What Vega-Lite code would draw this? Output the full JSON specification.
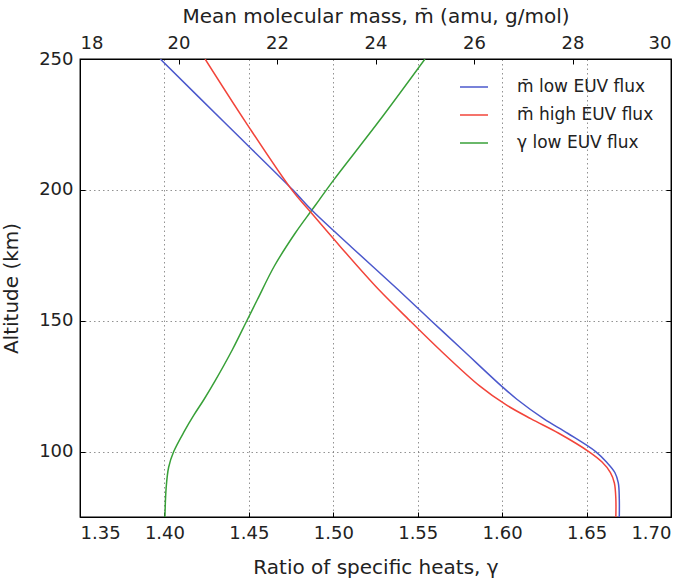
{
  "$schema": "https://vega.github.io/schema/vega-lite/v6.json",
  "width": 591,
  "height": 458,
  "autosize": "none",
  "padding": {"left": 80, "top": 59, "right": 19, "bottom": 63},
  "background": "white",
  "config": {
    "font": "DejaVu Sans",
    "view": {"stroke": "black", "strokeWidth": 1.3},
    "axis": {
      "labelFont": "DejaVu Sans", "labelFontSize": 18, "labelColor": "#222",
      "titleFont": "DejaVu Sans", "titleFontSize": 20, "titleFontWeight": "normal", "titleColor": "#222",
      "domainColor": "black", "tickColor": "black", "tickWidth": 1,
      "gridColor": "#777", "gridDash": [1.5, 3], "gridWidth": 1, "gridOpacity": 0.8
    },
    "legend": {"labelFont": "DejaVu Sans", "labelFontSize": 17, "labelColor": "#222"}
  },
  "data": {
    "values": [
      {"series": "m̄ low EUV flux", "alt": 250, "val": 19.63},
      {"series": "m̄ low EUV flux", "alt": 226, "val": 20.92},
      {"series": "m̄ low EUV flux", "alt": 200, "val": 22.32},
      {"series": "m̄ low EUV flux", "alt": 192, "val": 22.72},
      {"series": "m̄ low EUV flux", "alt": 178, "val": 23.52},
      {"series": "m̄ low EUV flux", "alt": 162, "val": 24.45},
      {"series": "m̄ low EUV flux", "alt": 150, "val": 25.13},
      {"series": "m̄ low EUV flux", "alt": 139, "val": 25.76},
      {"series": "m̄ low EUV flux", "alt": 125, "val": 26.56},
      {"series": "m̄ low EUV flux", "alt": 120, "val": 26.87},
      {"series": "m̄ low EUV flux", "alt": 112.5, "val": 27.42},
      {"series": "m̄ low EUV flux", "alt": 107, "val": 27.90},
      {"series": "m̄ low EUV flux", "alt": 100, "val": 28.47},
      {"series": "m̄ low EUV flux", "alt": 96, "val": 28.69},
      {"series": "m̄ low EUV flux", "alt": 92, "val": 28.86},
      {"series": "m̄ low EUV flux", "alt": 88, "val": 28.93},
      {"series": "m̄ low EUV flux", "alt": 82, "val": 28.95},
      {"series": "m̄ low EUV flux", "alt": 75, "val": 28.95},
      {"series": "m̄ high EUV flux", "alt": 250, "val": 20.54},
      {"series": "m̄ high EUV flux", "alt": 226, "val": 21.36},
      {"series": "m̄ high EUV flux", "alt": 200, "val": 22.30},
      {"series": "m̄ high EUV flux", "alt": 192, "val": 22.66},
      {"series": "m̄ high EUV flux", "alt": 178, "val": 23.30},
      {"series": "m̄ high EUV flux", "alt": 162, "val": 24.06},
      {"series": "m̄ high EUV flux", "alt": 150, "val": 24.70},
      {"series": "m̄ high EUV flux", "alt": 139, "val": 25.30},
      {"series": "m̄ high EUV flux", "alt": 125, "val": 26.12},
      {"series": "m̄ high EUV flux", "alt": 118, "val": 26.64},
      {"series": "m̄ high EUV flux", "alt": 112.5, "val": 27.16},
      {"series": "m̄ high EUV flux", "alt": 107, "val": 27.72},
      {"series": "m̄ high EUV flux", "alt": 100, "val": 28.33},
      {"series": "m̄ high EUV flux", "alt": 96, "val": 28.60},
      {"series": "m̄ high EUV flux", "alt": 92, "val": 28.77},
      {"series": "m̄ high EUV flux", "alt": 88, "val": 28.85},
      {"series": "m̄ high EUV flux", "alt": 82, "val": 28.88},
      {"series": "m̄ high EUV flux", "alt": 75, "val": 28.88},
      {"series": "γ low EUV flux", "alt": 250, "val": 1.5543},
      {"series": "γ low EUV flux", "alt": 226, "val": 1.5268},
      {"series": "γ low EUV flux", "alt": 204, "val": 1.5005},
      {"series": "γ low EUV flux", "alt": 196, "val": 1.4915},
      {"series": "γ low EUV flux", "alt": 192, "val": 1.4870},
      {"series": "γ low EUV flux", "alt": 183.5, "val": 1.4775},
      {"series": "γ low EUV flux", "alt": 171, "val": 1.4652},
      {"series": "γ low EUV flux", "alt": 158, "val": 1.4550},
      {"series": "γ low EUV flux", "alt": 150, "val": 1.4488},
      {"series": "γ low EUV flux", "alt": 139, "val": 1.4403},
      {"series": "γ low EUV flux", "alt": 127, "val": 1.4300},
      {"series": "γ low EUV flux", "alt": 120, "val": 1.4235},
      {"series": "γ low EUV flux", "alt": 114, "val": 1.4175},
      {"series": "γ low EUV flux", "alt": 108, "val": 1.4120},
      {"series": "γ low EUV flux", "alt": 100, "val": 1.4055},
      {"series": "γ low EUV flux", "alt": 94, "val": 1.4025},
      {"series": "γ low EUV flux", "alt": 86, "val": 1.4010},
      {"series": "γ low EUV flux", "alt": 75, "val": 1.4003}
    ]
  },
  "layer": [
    {
      "transform": [{"filter": "datum.series === 'γ low EUV flux'"}],
      "mark": {"type": "line", "strokeWidth": 1.5, "clip": true, "interpolate": "catmull-rom"},
      "encoding": {
        "x": {
          "field": "val", "type": "quantitative",
          "scale": {"domain": [1.35, 1.70], "nice": false, "zero": false},
          "axis": {
            "orient": "bottom", "values": [1.35, 1.40, 1.45, 1.50, 1.55, 1.60, 1.65, 1.70],
            "format": ".2f", "title": "Ratio of specific heats, γ", "grid": true,
            "tickSize": -5, "labelPadding": 12, "titlePadding": 15
          }
        },
        "y": {
          "field": "alt", "type": "quantitative",
          "scale": {"domain": [75, 250], "nice": false, "zero": false},
          "axis": {
            "orient": "left", "values": [100, 150, 200, 250], "title": "Altitude (km)",
            "grid": true, "tickSize": -5, "labelPadding": 12, "titlePadding": 17
          }
        },
        "color": {
          "field": "series", "type": "nominal",
          "scale": {"domain": ["m̄ low EUV flux", "m̄ high EUV flux", "γ low EUV flux"], "range": ["#4b58cc", "#f2443a", "#38a038"]},
          "legend": {
            "title": null, "orient": "none", "legendX": 379, "legendY": 13,
            "symbolType": "stroke", "symbolSize": 784, "symbolStrokeWidth": 1.5,
            "labelOffset": 28, "rowPadding": 5
          }
        },
        "order": {"field": "alt", "type": "quantitative"}
      }
    },
    {
      "transform": [{"filter": "datum.series !== 'γ low EUV flux'"}],
      "mark": {"type": "line", "strokeWidth": 1.5, "clip": true, "interpolate": "catmull-rom"},
      "encoding": {
        "x": {
          "field": "val", "type": "quantitative",
          "scale": {"domain": [18, 30], "nice": false, "zero": false},
          "axis": {
            "orient": "top", "values": [18, 20, 22, 24, 26, 28, 30],
            "title": "Mean molecular mass, m̄ (amu, g/mol)", "grid": false,
            "tickSize": -5, "labelPadding": 12, "titlePadding": 8
          }
        },
        "y": {
          "field": "alt", "type": "quantitative",
          "scale": {"domain": [75, 250], "nice": false, "zero": false},
          "axis": {"orient": "right", "values": [100, 150, 200], "labels": false, "title": null, "grid": false, "tickSize": -5}
        },
        "color": {
          "field": "series", "type": "nominal",
          "scale": {"domain": ["m̄ low EUV flux", "m̄ high EUV flux", "γ low EUV flux"], "range": ["#4b58cc", "#f2443a", "#38a038"]},
          "legend": {
            "title": null, "orient": "none", "legendX": 379, "legendY": 13,
            "symbolType": "stroke", "symbolSize": 784, "symbolStrokeWidth": 1.5,
            "labelOffset": 28, "rowPadding": 5
          }
        },
        "order": {"field": "alt", "type": "quantitative"}
      }
    }
  ],
  "resolve": {"scale": {"x": "independent"}, "axis": {"y": "independent"}}
}
